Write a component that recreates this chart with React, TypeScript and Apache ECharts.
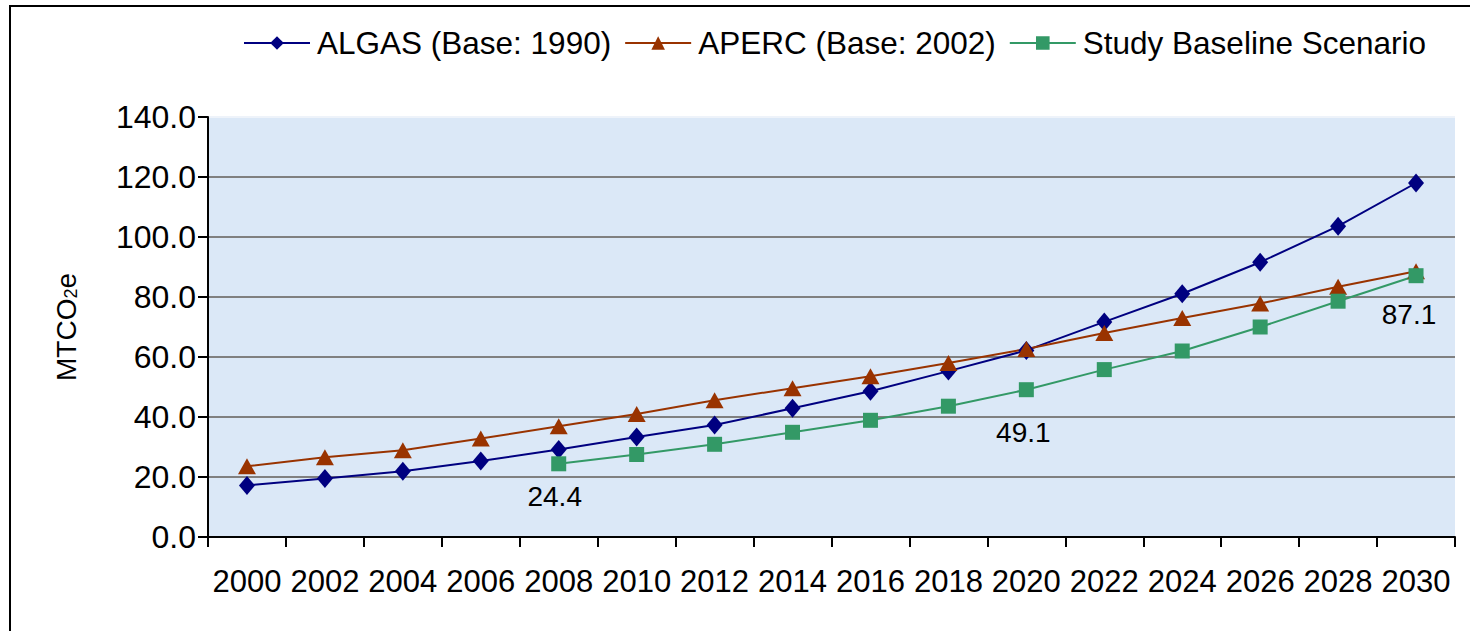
import React, { useEffect, useRef } from "react";
import * as echarts from "echarts";

const years = ["2000","2002","2004","2006","2008","2010","2012","2014","2016","2018","2020","2022","2024","2026","2028","2030"];
const algas = [17.2, 19.5, 21.9, 25.3, 29.2, 33.3, 37.3, 42.9, 48.6, 55.3, 62.2, 71.7, 81.1, 91.6, 103.6, 118.0];
const aperc = [23.6, 26.6, 28.9, 32.8, 36.9, 41.0, 45.6, 49.6, 53.6, 58.0, 62.7, 68.0, 73.0, 77.8, 83.4, 88.6];
const study = [null, null, null, null, 24.4, 27.5, 30.9, 34.9, 38.9, 43.6, 49.1, 55.8, 62.0, 70.0, 78.6, 87.1];
const studyLabelled = [4, 10, 15];
const yTicks = [0, 20, 40, 60, 80, 100, 120, 140];
const seriesNames = ["ALGAS (Base: 1990)", "APERC (Base: 2002)", "Study Baseline Scenario"];

const FONT = "'Liberation Sans', Arial, sans-serif";

export default function App() {
  const ref = useRef<HTMLDivElement>(null);
  useEffect(() => {
    document.body.style.margin = "0";
    const chart = echarts.init(ref.current!, null, { renderer: "svg" });
    const labelCfg: Record<number, any> = {
      4: { distance: 11, offset: [-4, 0] },
      10: { distance: 21, offset: [-3, 0] },
      15: { distance: 17, offset: [-7, 0] },
    };
    const studyData = study.map((v, i) =>
      studyLabelled.includes(i)
        ? {
            value: v,
            label: {
              show: true,
              position: "bottom",
              distance: labelCfg[i].distance,
              offset: labelCfg[i].offset,
              formatter: (p: any) => Number(p.value).toFixed(1),
              fontSize: 28,
              fontFamily: FONT,
              color: "#000",
            },
          }
        : v
    );
    const splitColors = yTicks.map((t, i) => (i === yTicks.length - 1 ? "#eef3fa" : "#808080"));
    chart.setOption({
      animation: false,
      backgroundColor: "#ffffff",
      textStyle: { fontFamily: FONT },
      graphic: [
        {
          type: "rect",
          shape: { x: 10, y: 6, width: 1500, height: 660 },
          style: { fill: "none", stroke: "#000", lineWidth: 2 },
          silent: true,
        },
      ],
      legend: {
        left: 238,
        top: 22,
        itemWidth: 66,
        itemHeight: 17,
        itemGap: 13,
        textStyle: { fontSize: 31.5, color: "#000", fontFamily: FONT, padding: [0, 0, 0, 2] },
        data: seriesNames,
      },
      grid: {
        left: 208,
        right: 15,
        top: 117,
        bottom: 94,
        show: true,
        backgroundColor: "#dbe8f7",
        borderWidth: 0,
      },
      xAxis: {
        type: "category",
        data: years,
        boundaryGap: true,
        axisLine: { show: true, lineStyle: { color: "#000", width: 2 } },
        axisTick: { show: true, length: 10, lineStyle: { color: "#000", width: 2 } },
        axisLabel: {
          interval: 0,
          margin: 29,
          fontSize: 31,
          color: "#000",
          fontFamily: "'Liberation Sans Narrow', 'Arial Narrow', 'Liberation Sans', sans-serif",
        },
      },
      yAxis: {
        type: "value",
        min: 0,
        max: 140,
        interval: 20,
        name: "{a|MTCO}{b|2}{a|e}",
        nameLocation: "middle",
        nameGap: 128,
        nameTextStyle: {
          rich: {
            a: { fontSize: 28, color: "#000", fontFamily: FONT },
            b: { fontSize: 18, color: "#000", fontFamily: FONT, verticalAlign: "bottom" },
          },
        },
        axisLine: { show: true, lineStyle: { color: "#000", width: 2 } },
        axisTick: { show: true, length: 10, lineStyle: { color: "#000", width: 2 } },
        axisLabel: {
          margin: 12,
          fontSize: 32,
          color: "#000",
          fontFamily: FONT,
          formatter: (v: number) => v.toFixed(1),
        },
        splitLine: { show: true, lineStyle: { color: splitColors, width: 2 } },
      },
      series: [
        {
          name: seriesNames[0],
          type: "line",
          data: algas,
          symbol: "diamond",
          symbolSize: [16, 19],
          lineStyle: { color: "#000080", width: 2 },
          itemStyle: { color: "#000080" },
        },
        {
          name: seriesNames[1],
          type: "line",
          data: aperc,
          symbol: "triangle",
          symbolSize: [18, 16],
          lineStyle: { color: "#993300", width: 2 },
          itemStyle: { color: "#993300" },
        },
        {
          name: seriesNames[2],
          type: "line",
          data: studyData,
          symbol: "rect",
          symbolSize: 15,
          connectNulls: false,
          lineStyle: { color: "#339966", width: 2 },
          itemStyle: { color: "#339966" },
        },
      ],
    });
    return () => chart.dispose();
  }, []);
  return <div ref={ref} style={{ width: 1470, height: 631 }} />;
}
